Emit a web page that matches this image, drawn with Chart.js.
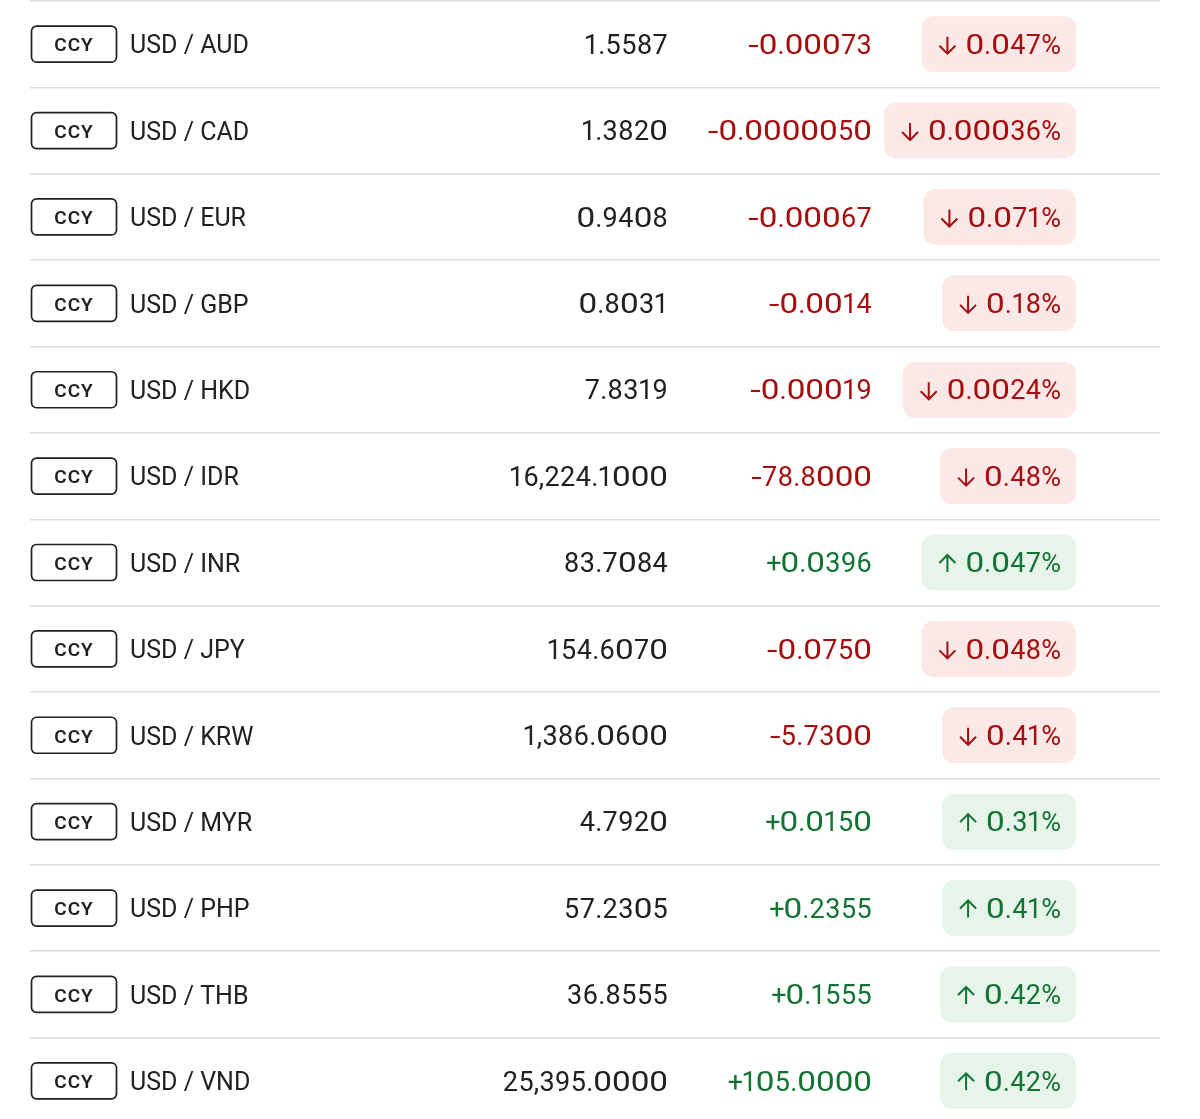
<!DOCTYPE html>
<html lang="en">
<head>
<meta charset="UTF-8">
<title>USD currency rates</title>
<script src="https://cdn.jsdelivr.net/npm/chart.js"></script>
<style>
  html, body { margin: 0; padding: 0; background: #fff; overflow: hidden; }
  .wrap { position: relative; width: 1200px; height: 1124px; }
</style>
</head>
<body>
<div class="wrap"><canvas id="fxTable"></canvas></div>
<script>
// Table data
const pairs = ['USD / AUD', 'USD / CAD', 'USD / EUR', 'USD / GBP', 'USD / HKD', 'USD / IDR', 'USD / INR',
  'USD / JPY', 'USD / KRW', 'USD / MYR', 'USD / PHP', 'USD / THB', 'USD / VND'];
const rates = [1.5587, 1.3820, 0.9408, 0.8031, 7.8319, 16224.1000, 83.7084,
  154.6070, 1386.0600, 4.7920, 57.2305, 36.8555, 25395.0000];
const changes = ['-0.00073', '-0.0000050', '-0.00067', '-0.0014', '-0.00019', '-78.8000', '+0.0396',
  '-0.0750', '-5.7300', '+0.0150', '+0.2355', '+0.1555', '+105.0000'];
const pctChanges = ['0.047%', '0.00036%', '0.071%', '0.18%', '0.0024%', '0.48%', '0.047%',
  '0.048%', '0.41%', '0.31%', '0.41%', '0.42%', '0.42%'];
const tagLabel = 'CCY';

const FONT = 'Roboto, "Open Sans", sans-serif';
const TEXT = '#202124';
const RED = '#a50e0e', RED_BG = '#fce8e6';
const GREEN = '#137333', GREEN_BG = '#e6f4ea';

// the original face has a wide round zero and a narrow one, so nudge the advances a bit
const charExtra = { '0': 3.5, '1': -1.5, '+': -2, '-': 3,
  '2': 0.5, '3': 0.5, '4': 0.5, '5': 0.5, '6': 0.5, '7': 0.5, '8': 0.5, '9': 0.5 };
const stretched = { '0': true, '-': true };

function numWidth(ctx, str) {
  let w = 0;
  for (const ch of str) w += ctx.measureText(ch).width + (charExtra[ch] || 0);
  return w;
}

// right aligned number drawn glyph by glyph
function drawNum(ctx, str, right, cy) {
  let x = right - numWidth(ctx, str);
  ctx.textAlign = 'left';
  for (const ch of str) {
    const w = ctx.measureText(ch).width;
    const extra = charExtra[ch] || 0;
    if (stretched[ch]) {
      ctx.save();
      ctx.translate(x, cy);
      ctx.scale((w + extra) / w, 1);
      ctx.fillText(ch, 0, 0);
      ctx.restore();
    } else {
      ctx.fillText(ch, x + extra / 2, cy);
    }
    x += w + extra;
  }
}

function roundRect(ctx, x, y, w, h, r) {
  ctx.beginPath();
  ctx.moveTo(x + r, y);
  ctx.arcTo(x + w, y, x + w, y + h, r);
  ctx.arcTo(x + w, y + h, x, y + h, r);
  ctx.arcTo(x, y + h, x, y, r);
  ctx.arcTo(x, y, x + w, y, r);
  ctx.closePath();
}

function drawArrow(ctx, x, cy, down) {
  const dir = down ? 1 : -1;
  ctx.beginPath();
  ctx.moveTo(x, cy - 8.5 * dir);
  ctx.lineTo(x, cy + 8.5 * dir);
  ctx.moveTo(x - 8, cy + 0.5 * dir);
  ctx.lineTo(x, cy + 8.5 * dir);
  ctx.lineTo(x + 8, cy + 0.5 * dir);
  ctx.stroke();
}

// draws the cells of every row at the row centre given by the y scale
const rowsPlugin = {
  id: 'rows',
  afterDatasetsDraw(chart) {
    const { ctx, chartArea, scales: { y } } = chart;
    const left = chartArea.left;
    ctx.save();
    ctx.textBaseline = 'middle';
    pairs.forEach((pair, i) => {
      const cy = y.getPixelForValue(i);
      const ty = cy + 3; // text sits a touch below the row centre
      const down = changes[i].startsWith('-');
      const col = down ? RED : GREEN;

      // CCY tag
      ctx.strokeStyle = TEXT;
      ctx.lineWidth = 1.7;
      roundRect(ctx, left + 1.5, cy - 18, 85, 36, 5);
      ctx.stroke();
      ctx.fillStyle = TEXT;
      ctx.font = '600 19px ' + FONT;
      ctx.textAlign = 'center';
      ctx.letterSpacing = '1px';
      ctx.fillText(tagLabel, left + 44, cy + 2.5);
      ctx.letterSpacing = '0px';

      // pair name
      ctx.font = '400 25px ' + FONT;
      ctx.textAlign = 'left';
      ctx.fillText(pair, left + 100, ty);

      // rate
      ctx.font = '400 27px ' + FONT;
      const rateText = rates[i].toLocaleString('en-US', { minimumFractionDigits: 4, maximumFractionDigits: 4 });
      drawNum(ctx, rateText, left + 638, ty);

      // change
      ctx.fillStyle = col;
      drawNum(ctx, changes[i], left + 842, ty);

      // percent badge
      const tw = numWidth(ctx, pctChanges[i]);
      const right = left + 1046;
      const textLeft = right - 15 - tw;
      const bx = textLeft - 44;
      ctx.fillStyle = down ? RED_BG : GREEN_BG;
      roundRect(ctx, bx, cy - 28, right - bx, 56, 12);
      ctx.fill();
      ctx.fillStyle = col;
      drawNum(ctx, pctChanges[i], right - 15, ty);
      ctx.strokeStyle = col;
      ctx.lineWidth = 2;
      drawArrow(ctx, textLeft - 18, cy + 1, down);
    });
    ctx.restore();
  }
};

new Chart(document.getElementById('fxTable'), {
  type: 'bar',
  data: {
    labels: pairs,
    datasets: [{ data: pairs.map(() => 0), backgroundColor: 'rgba(0,0,0,0)' }]
  },
  options: {
    indexAxis: 'y',
    responsive: true,
    maintainAspectRatio: false,
    animation: false,
    events: [],
    layout: { padding: { left: 30, right: 40, top: 1, bottom: 0 } },
    scales: {
      x: { display: false, min: 0, max: 1 },
      y: {
        display: true,
        offset: true,
        border: { display: false },
        ticks: { display: false },
        grid: { color: '#dadce0', lineWidth: 1.5, drawTicks: false, offset: true },
        afterFit(scale) { scale.width = 0; }
      }
    },
    plugins: { legend: { display: false }, tooltip: { enabled: false } }
  },
  plugins: [rowsPlugin]
});
</script>
</body>
</html>
